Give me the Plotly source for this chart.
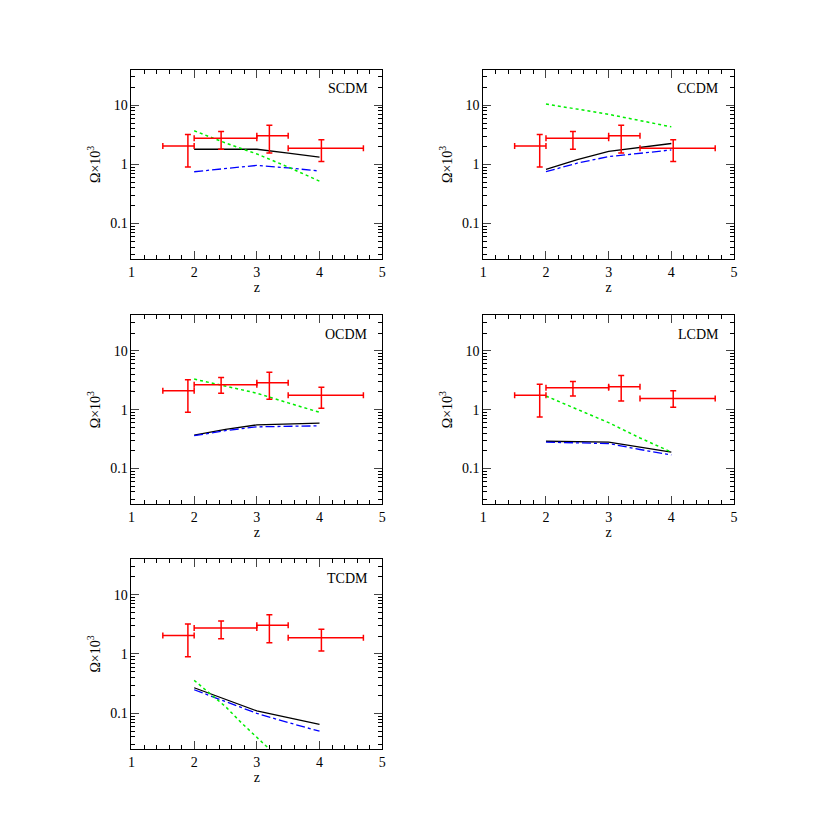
import plotly.graph_objects as go
from plotly.subplots import make_subplots

models = ["SCDM", "CCDM", "OCDM", "LCDM", "TCDM"]

# observed points (z, value, x-range, y-range)
obs_z = [1.9, 2.43, 3.2, 4.03]
obs_zlo = [1.5, 2.0, 3.0, 3.5]
obs_zhi = [2.0, 3.0, 3.5, 4.7]
obs_std = [2.05, 2.75, 3.05, 1.88]
obs_std_lo = [0.9, 1.8, 1.55, 1.12]
obs_std_hi = [3.2, 3.6, 4.6, 2.6]
obs_o = [2.1, 2.65, 2.85, 1.75]
obs_o_lo = [0.9, 1.9, 1.5, 1.05]
obs_o_hi = [3.2, 3.5, 4.3, 2.4]
obs_l = [1.75, 2.35, 2.45, 1.55]
obs_l_lo = [0.75, 1.7, 1.4, 1.1]
obs_l_hi = [2.7, 3.0, 3.8, 2.1]

z_mod = [2.0, 2.5, 3.0, 3.5, 4.0]
black = {
    "SCDM": [1.8, 1.8, 1.8, 1.55, 1.33],
    "CCDM": [0.82, 1.2, 1.65, 1.95, 2.25],
    "OCDM": [0.37, 0.46, 0.55, 0.57, 0.59],
    "LCDM": [0.29, 0.285, 0.28, 0.23, 0.19],
    "TCDM": [0.27, 0.17, 0.11, 0.085, 0.065],
}
blue = {
    "SCDM": [0.75, 0.85, 0.96, 0.87, 0.77],
    "CCDM": [0.75, 1.05, 1.35, 1.55, 1.75],
    "OCDM": [0.36, 0.44, 0.51, 0.52, 0.53],
    "LCDM": [0.28, 0.275, 0.265, 0.21, 0.17],
    "TCDM": [0.25, 0.16, 0.1, 0.07, 0.05],
}
green = {
    "SCDM": [3.7, 2.3, 1.5, 0.9, 0.52],
    "CCDM": [10.5, 8.5, 7.0, 5.5, 4.3],
    "OCDM": [3.3, 2.5, 1.9, 1.3, 0.9],
    "LCDM": [1.7, 1.0, 0.6, 0.33, 0.19],
}
z_green_t = [2.0, 2.25, 2.5, 2.75, 3.0, 3.2]
green_t = [0.36, 0.22, 0.13, 0.07, 0.04, 0.025]

obs = {
    "SCDM": (obs_std, obs_std_lo, obs_std_hi),
    "CCDM": (obs_std, obs_std_lo, obs_std_hi),
    "OCDM": (obs_o, obs_o_lo, obs_o_hi),
    "LCDM": (obs_l, obs_l_lo, obs_l_hi),
    "TCDM": (obs_std, obs_std_lo, obs_std_hi),
}

minor_y = [k * 10.0 ** e for e in (-2, -1, 0, 1) for k in range(2, 10)]

fig = make_subplots(rows=3, cols=2)
d = 8 / 830
xdom = [[0.155 - d, 0.46 - d], [0.583 - d, 0.888 - d]]
ydom = [[0.688 + d, 0.916 + d], [0.393 + d, 0.62 + d], [0.0976 + d, 0.3265 + d]]
font = dict(family="Liberation Serif", size=14, color="black")

for i, m in enumerate(models):
    r, c = i // 2 + 1, i % 2 + 1
    y, lo, hi = obs[m]
    fig.add_trace(go.Scatter(x=z_mod, y=black[m], mode="lines", line=dict(color="black", width=1.3)), row=r, col=c)
    fig.add_trace(go.Scatter(x=z_mod, y=blue[m], mode="lines", line=dict(color="blue", width=1.3, dash="dashdot")), row=r, col=c)
    if m == "TCDM":
        fig.add_trace(go.Scatter(x=z_green_t, y=green_t, mode="lines", line=dict(color="#00ee00", width=1.5, dash="dot")), row=r, col=c)
    else:
        fig.add_trace(go.Scatter(x=z_mod, y=green[m], mode="lines", line=dict(color="#00ee00", width=1.5, dash="dot")), row=r, col=c)
    fig.add_trace(go.Scatter(
        x=obs_z, y=y, mode="markers", marker=dict(size=1, color="red"),
        error_x=dict(type="data", symmetric=False, array=[b - a for a, b in zip(obs_z, obs_zhi)],
                     arrayminus=[a - b for a, b in zip(obs_z, obs_zlo)], color="red", thickness=1.5, width=3),
        error_y=dict(type="data", symmetric=False, array=[b - a for a, b in zip(y, hi)],
                     arrayminus=[a - b for a, b in zip(y, lo)], color="red", thickness=1.5, width=3),
    ), row=r, col=c)
    ax = "" if i == 0 else str(i + 1)
    fig.update_xaxes(domain=xdom[c - 1], range=[1, 5], dtick=1, ticks="inside", ticklen=8, mirror="allticks",
                     showline=True, linecolor="black", linewidth=1, showgrid=False, zeroline=False,
                     minor=dict(dtick=0.2, ticks="inside", ticklen=4, tickcolor="black"),
                     title=dict(text="z", standoff=0, font=font), tickfont=font, row=r, col=c)
    fig.update_yaxes(domain=ydom[r - 1], type="log", range=[-1.6, 1.6], tickvals=[0.1, 1, 10],
                     ticktext=["0.1", "1", "10"], ticks="inside", ticklen=8, mirror="allticks",
                     showline=True, linecolor="black", linewidth=1, showgrid=False, zeroline=False,
                     minor=dict(tickvals=minor_y, ticks="inside", ticklen=4, tickcolor="black", showgrid=False),
                     title=dict(text="Ω×10<sup>3</sup>", standoff=6, font=font), tickfont=font, row=r, col=c)
    fig.add_annotation(text=m, x=0.95, y=0.95, xref="x" + ax + " domain", yref="y" + ax + " domain",
                       xanchor="right", yanchor="top", showarrow=False, font=font)

fig.update_layout(width=830, height=830, margin=dict(l=0, r=0, t=0, b=0), showlegend=False,
                  plot_bgcolor="white", paper_bgcolor="white")
fig.write_html("out.html")
